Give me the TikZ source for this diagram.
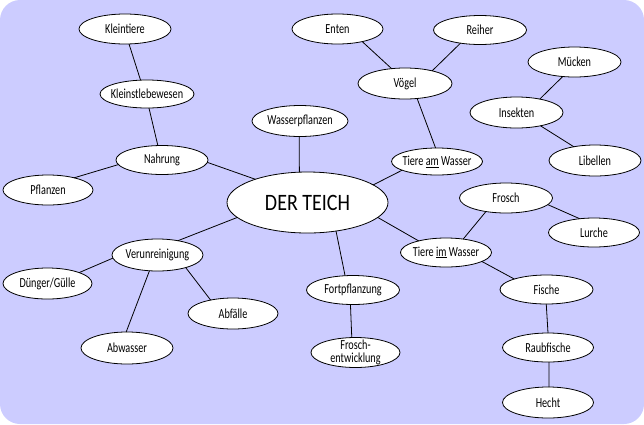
\documentclass[tikz,border=0pt]{standalone}
\usepackage{fontspec}
\setmainfont{Carlito}[FakeStretch=0.74]
\newfontfamily\titlefont{Carlito}[FakeStretch=0.85]
\usetikzlibrary{shapes.geometric}
\definecolor{bgc}{RGB}{204,204,255}
\begin{document}
\begin{tikzpicture}[x=1pt,y=-1pt,
  el/.style={ellipse, draw=black, fill=white, line width=0.8pt, inner sep=0pt, outer sep=0pt},
  every label/.style={font=\fontsize{13.8}{12.5}\selectfont, inner sep=0pt, align=center},
  conn/.style={draw=black, line width=0.8pt}]
\useasboundingbox (0,0) rectangle (644,424);
\fill[bgc, rounded corners=20pt] (0,0) rectangle (644,424);

% nodes
\node[el, minimum width=92pt, minimum height=30pt, label={center:Kleintiere}] (kt) at (125,29) {};
\node[el, minimum width=94pt, minimum height=28pt, label={center:Kleinstlebewesen}] (kl) at (147,94) {};
\node[el, minimum width=92pt, minimum height=29pt, label={center:Nahrung}] (na) at (162,160) {};
\node[el, minimum width=90pt, minimum height=30pt, label={center:Pflanzen}] (pf) at (48,190) {};
\node[el, minimum width=96pt, minimum height=31pt, label={center:Wasserpflanzen}] (wp) at (300,121) {};
\node[el, minimum width=161pt, minimum height=61pt, label={[font=\titlefont\fontsize{23.5}{28}\selectfont]center:DER TEICH}] (te) at (307.5,202.5) {};
\node[el, minimum width=91pt, minimum height=30pt, label={center:Enten}] (en) at (337.5,29) {};
\node[el, minimum width=93pt, minimum height=29pt, label={center:Reiher}] (re) at (480,30) {};
\node[el, minimum width=94pt, minimum height=31pt, label={center:Vögel}] (vo) at (405,83.5) {};
\node[el, minimum width=93pt, minimum height=30pt, label={center:Mücken}] (mu) at (574.5,62) {};
\node[el, minimum width=93pt, minimum height=31pt, label={center:Insekten}] (in) at (516.5,112.5) {};
\node[el, minimum width=92pt, minimum height=31pt, label={center:Libellen}] (li) at (595,160.5) {};
\node[el, minimum width=91pt, minimum height=27pt, label={center:Tiere \underline{am} Wasser}] (ta) at (437,161.5) {};
\node[el, minimum width=93pt, minimum height=30pt, label={center:Frosch}] (fr) at (506,198) {};
\node[el, minimum width=91pt, minimum height=29pt, label={center:Lurche}] (lu) at (594,232.5) {};
\node[el, minimum width=91pt, minimum height=29pt, label={center:Tiere \underline{im} Wasser}] (ti) at (446,252.5) {};
\node[el, minimum width=93pt, minimum height=29pt, label={center:Fische}] (fi) at (546.5,289.5) {};
\node[el, minimum width=91pt, minimum height=29pt, label={center:Raubfische}] (rf) at (548,347.5) {};
\node[el, minimum width=91pt, minimum height=31pt, label={center:Hecht}] (he) at (548,402.5) {};
\node[el, minimum width=93pt, minimum height=29pt, label={center:Fortpflanzung}] (fo) at (353,290) {};
\node[el, minimum width=89pt, minimum height=30pt, label={center:Frosch-\\entwicklung}] (fe) at (355.5,352.5) {};
\node[el, minimum width=91pt, minimum height=32pt, label={center:Verunreinigung}] (ve) at (157.5,255) {};
\node[el, minimum width=89pt, minimum height=31pt, label={center:Dünger/Gülle}] (du) at (47.5,283.5) {};
\node[el, minimum width=90pt, minimum height=31pt, label={center:Abfälle}] (ab) at (233,313.5) {};
\node[el, minimum width=92pt, minimum height=32pt, label={center:Abwasser}] (aw) at (127,348) {};

% connectors
\draw[conn] (kt.-75) -- (kl.115);
\draw[conn] (kl.-82) -- (na.106);
\draw[conn] (na.186) -- (pf.25);
\draw[conn] (na.-3) -- (te.156);
\draw[conn] (wp.-93) -- (te.105);
\draw[conn] (te.15) -- (ta.-166);
\draw[conn] (te.-12) -- (ti.157);
\draw[conn] (te.192) -- (ve.35);
\draw[conn] (te.-45) -- (fo.119);
\draw[conn] (fo.-100) -- (fe.104);
\draw[conn] (ta.96) -- (vo.-51);
\draw[conn] (vo.132) -- (en.-27);
\draw[conn] (vo.25) -- (re.214);
\draw[conn] (in.30) -- (mu.231);
\draw[conn] (in.-29) -- (li.147);
\draw[conn] (ti.38) -- (fr.214);
\draw[conn] (fr.-9.5) -- (lu.136);
\draw[conn] (ti.-14) -- (fi.162);
\draw[conn] (fi.-91) -- (rf.90);
\draw[conn] (rf.-86) -- (he.86);
\draw[conn] (ve.184) -- (du.19.5);
\draw[conn] (ve.-117) -- (aw.93);
\draw[conn] (ve.-24) -- (ab.149);
\end{tikzpicture}
\end{document}
